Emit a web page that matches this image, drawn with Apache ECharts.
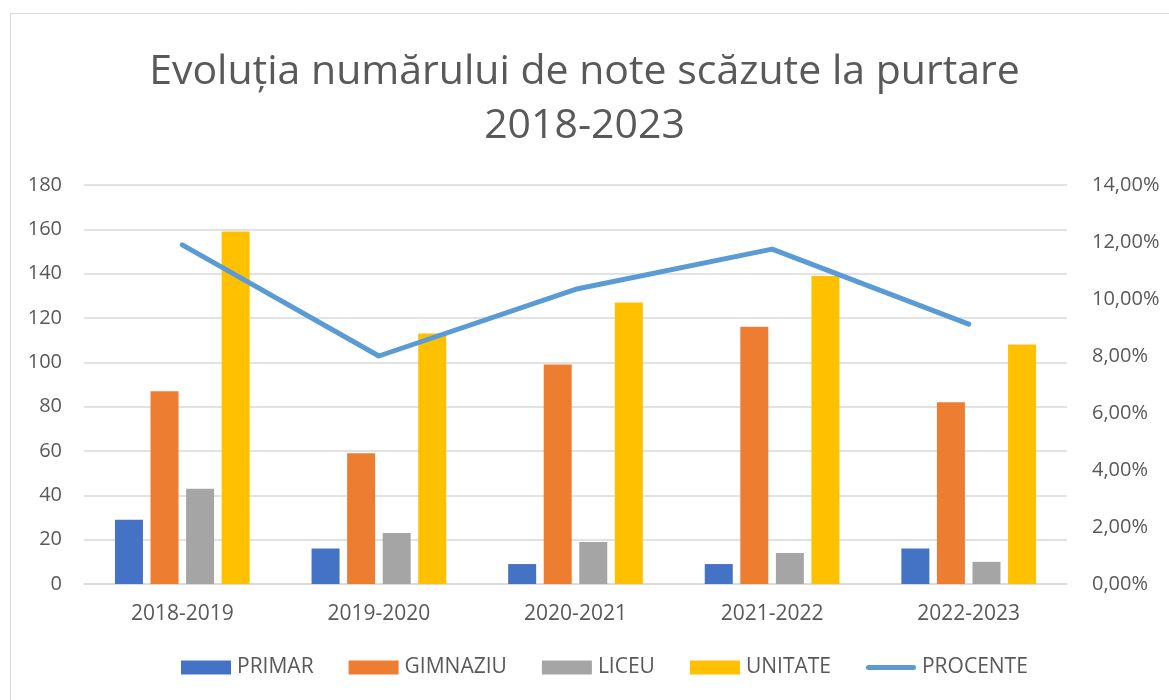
<!DOCTYPE html>
<html>
<head>
<meta charset="utf-8">
<script src="https://cdn.jsdelivr.net/npm/echarts@6/dist/echarts.min.js"></script>
<style>
  html, body { margin: 0; padding: 0; background: #fff; }
  #main { width: 1169px; height: 700px; }
</style>
</head>
<body>
<div id="main"></div>
<script>
// ani scolare
var categories = ["2018-2019", "2019-2020", "2020-2021", "2021-2022", "2022-2023"];
var primar = [29, 16, 9, 9, 16];
var gimnaziu = [87, 59, 99, 116, 82];
var liceu = [43, 23, 19, 14, 10];
var unitate = [159, 113, 127, 139, 108];
var procente = [0.119, 0.080, 0.1034, 0.1175, 0.0912];

var font = '"Open Sans", sans-serif';
var textColor = "#595959";

var myChart = echarts.init(document.getElementById("main"));

function barSeries(name, data, color) {
  return {
    name: name,
    type: "bar",
    data: data,
    barWidth: 28,
    barGap: "27%",
    itemStyle: { color: color },
  };
}

var option = {
  animation: false,
  backgroundColor: "#fff",
  graphic: [
    {
      type: "rect",
      shape: { x: 10.5, y: 13.5, width: 1200, height: 720 },
      style: { fill: null, stroke: "#d9d9d9", lineWidth: 1 },
    },
  ],
  title: {
    text: "Evoluția numărului de note scăzute la purtare\n2018-2023",
    left: "center",
    top: 40,
    textStyle: {
      fontFamily: font,
      fontWeight: "normal",
      fontSize: 41,
      lineHeight: 54,
      color: textColor,
    },
  },
  legend: {
    bottom: 17,
    left: 176,
    itemWidth: 50,
    itemHeight: 14,
    itemGap: 35,
    symbolKeepAspect: true,
    textStyle: { fontFamily: font, fontSize: 21, color: textColor, padding: [0, 0, 0, 1] },
    data: [
      { name: "PRIMAR", icon: "rect" },
      { name: "GIMNAZIU", icon: "rect" },
      { name: "LICEU", icon: "rect" },
      { name: "UNITATE", icon: "rect" },
      { name: "PROCENTE", icon: "path://M2.5,0 L47.5,0 A2.5,2.5 0 0 1 47.5,5 L2.5,5 A2.5,2.5 0 0 1 2.5,0 Z" },
    ],
  },
  grid: { left: 84, right: 102, top: 185, bottom: 116 },
  xAxis: {
    type: "category",
    data: categories,
    axisTick: { show: false },
    axisLine: { lineStyle: { color: "#d9d9d9", width: 1.5 } },
    axisLabel: { margin: 20, fontFamily: font, fontSize: 21, color: textColor },
  },
  yAxis: [
    {
      type: "value",
      min: 0,
      max: 180,
      interval: 20,
      axisLine: { show: false },
      axisTick: { show: false },
      splitLine: { lineStyle: { color: "#d9d9d9", width: 1.5 } },
      axisLabel: { margin: 22, fontFamily: font, fontSize: 20, color: textColor },
    },
    {
      type: "value",
      min: 0,
      max: 0.14,
      interval: 0.02,
      axisLine: { show: false },
      axisTick: { show: false },
      splitLine: { show: false },
      axisLabel: {
        margin: 25,
        fontFamily: font,
        fontSize: 20,
        color: textColor,
        formatter: function (v) {
          return (v * 100).toFixed(2).replace(".", ",") + "%";
        },
      },
    },
  ],
  series: [
    barSeries("PRIMAR", primar, "#4472C4"),
    barSeries("GIMNAZIU", gimnaziu, "#ED7D31"),
    barSeries("LICEU", liceu, "#A5A5A5"),
    barSeries("UNITATE", unitate, "#FFC000"),
    {
      name: "PROCENTE",
      type: "line",
      yAxisIndex: 1,
      data: procente,
      symbol: "none",
      lineStyle: { color: "#5B9BD5", width: 5, cap: "round", join: "round" },
      itemStyle: { color: "#5B9BD5" },
    },
  ],
};

option && myChart.setOption(option);
</script>
</body>
</html>
